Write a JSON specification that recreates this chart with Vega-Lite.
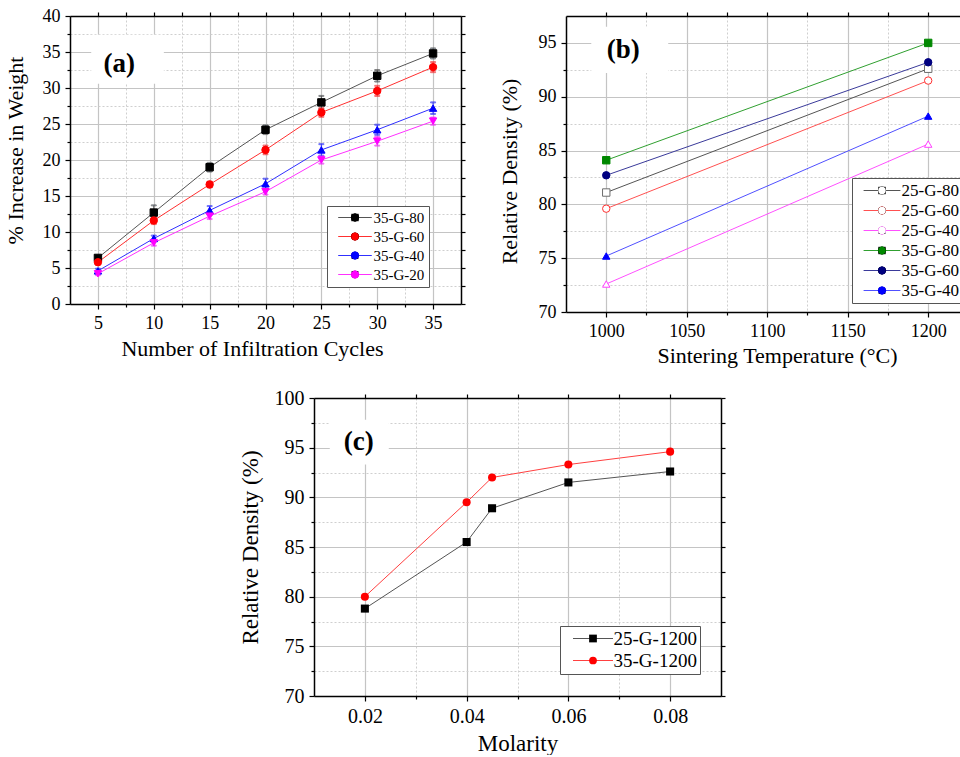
{
  "$schema": "https://vega.github.io/schema/vega-lite/v6.json",
  "padding": {"left": 4, "top": 7, "right": 0, "bottom": 0},
  "background": "white",
  "config": {
    "font": "Liberation Serif",
    "view": {"stroke": null},
    "axis": {"labelFont": "Liberation Serif", "titleFont": "Liberation Serif", "labelColor": "#000", "titleColor": "#000", "titleFontWeight": "normal", "domainColor": "#000", "tickColor": "#000", "domainWidth": 1.5, "tickWidth": 1.2, "labelFontSize": 18, "titleFontSize": 22},
    "legend": {"labelFont": "Liberation Serif", "labelColor": "#000"}
  },
  "resolve": {"scale": {"color": "independent", "shape": "independent", "stroke": "independent", "fill": "independent"}, "legend": {"color": "independent", "shape": "independent", "stroke": "independent", "fill": "independent"}},
  "vconcat": [
    {
      "resolve": {"scale": {"color": "independent", "shape": "independent", "stroke": "independent", "fill": "independent"}, "legend": {"color": "independent", "shape": "independent", "stroke": "independent", "fill": "independent"}},
      "spacing": 32,
      "hconcat": [
        {
          "width": 391, "height": 288,
          "data": {"values": [
            {"cycles": 5, "series": "35-G-80", "value": 6.4, "err": 0.3},
            {"cycles": 10, "series": "35-G-80", "value": 12.7, "err": 1.0},
            {"cycles": 15, "series": "35-G-80", "value": 19.0, "err": 0.6},
            {"cycles": 20, "series": "35-G-80", "value": 24.2, "err": 0.6},
            {"cycles": 25, "series": "35-G-80", "value": 28.0, "err": 0.9},
            {"cycles": 30, "series": "35-G-80", "value": 31.7, "err": 0.8},
            {"cycles": 35, "series": "35-G-80", "value": 34.8, "err": 0.7},
            {"cycles": 5, "series": "35-G-60", "value": 5.8, "err": 0.3},
            {"cycles": 10, "series": "35-G-60", "value": 11.6, "err": 0.5},
            {"cycles": 15, "series": "35-G-60", "value": 16.6, "err": 0.4},
            {"cycles": 20, "series": "35-G-60", "value": 21.4, "err": 0.6},
            {"cycles": 25, "series": "35-G-60", "value": 26.6, "err": 0.6},
            {"cycles": 30, "series": "35-G-60", "value": 29.6, "err": 0.7},
            {"cycles": 35, "series": "35-G-60", "value": 32.9, "err": 0.7},
            {"cycles": 5, "series": "35-G-40", "value": 4.6, "err": 0.3},
            {"cycles": 10, "series": "35-G-40", "value": 9.1, "err": 0.4},
            {"cycles": 15, "series": "35-G-40", "value": 13.0, "err": 0.6},
            {"cycles": 20, "series": "35-G-40", "value": 16.7, "err": 0.7},
            {"cycles": 25, "series": "35-G-40", "value": 21.4, "err": 0.8},
            {"cycles": 30, "series": "35-G-40", "value": 24.2, "err": 0.7},
            {"cycles": 35, "series": "35-G-40", "value": 27.2, "err": 0.8},
            {"cycles": 5, "series": "35-G-20", "value": 4.2, "err": 0.2},
            {"cycles": 10, "series": "35-G-20", "value": 8.5, "err": 0.4},
            {"cycles": 15, "series": "35-G-20", "value": 12.2, "err": 0.4},
            {"cycles": 20, "series": "35-G-20", "value": 15.6, "err": 0.4},
            {"cycles": 25, "series": "35-G-20", "value": 20.0, "err": 0.5},
            {"cycles": 30, "series": "35-G-20", "value": 22.6, "err": 0.6},
            {"cycles": 35, "series": "35-G-20", "value": 25.4, "err": 0.5}
          ]},
          "resolve": {"axis": {"x": "independent", "y": "independent"}},
          "layer": [
            {
              "mark": {"type": "point", "opacity": 0},
              "encoding": {
                "x": {"field": "cycles", "type": "quantitative", "scale": {"domain": [2.5, 37.5], "nice": false, "zero": false}, "axis": {"orient": "top", "values": [5, 7.5, 10, 12.5, 15, 17.5, 20, 22.5, 25, 27.5, 30, 32.5, 35], "labels": false, "grid": false, "title": null, "tickSize": 4, "domain": true}},
                "y": {"field": "value", "type": "quantitative", "scale": {"domain": [0, 40], "nice": false, "zero": false}, "axis": {"orient": "right", "values": [0, 2.5, 5, 7.5, 10, 12.5, 15, 17.5, 20, 22.5, 25, 27.5, 30, 32.5, 35, 37.5, 40], "labels": false, "grid": false, "title": null, "tickSize": 4, "domain": true}}
              }
            },
            {
              "mark": {"type": "point", "opacity": 0},
              "encoding": {
                "x": {"field": "cycles", "type": "quantitative", "scale": {"domain": [2.5, 37.5], "nice": false, "zero": false}, "axis": {"orient": "bottom", "values": [7.5, 12.5, 17.5, 22.5, 27.5, 32.5], "labels": false, "grid": true, "gridDash": [2, 2], "gridColor": "#cfcfcf", "gridWidth": 1, "title": null, "tickSize": 3, "domain": false}},
                "y": {"field": "value", "type": "quantitative", "scale": {"domain": [0, 40], "nice": false, "zero": false}, "axis": {"orient": "left", "values": [2.5, 7.5, 12.5, 17.5, 22.5, 27.5, 32.5, 37.5], "labels": false, "grid": true, "gridDash": [2, 2], "gridColor": "#cfcfcf", "gridWidth": 1, "title": null, "tickSize": 3, "domain": false}}
              }
            },
            {
              "data": {"values": [{"t": "(a)"}]},
              "mark": {"type": "rect", "fill": "white"},
              "encoding": {
                "x": {"datum": 4.4, "type": "quantitative", "scale": {"domain": [2.5, 37.5], "nice": false, "zero": false}, "axis": null},
                "x2": {"datum": 10.9},
                "y": {"datum": 30.6, "type": "quantitative", "scale": {"domain": [0, 40], "nice": false, "zero": false}, "axis": null},
                "y2": {"datum": 37.4}
              }
            },
            {
              "data": {"values": [{"t": "(a)"}]},
              "mark": {"type": "text", "fontSize": 27, "fontWeight": "bold", "font": "Liberation Serif", "baseline": "middle", "align": "center"},
              "encoding": {
                "x": {"datum": 6.9, "type": "quantitative", "axis": null},
                "y": {"datum": 33.3, "type": "quantitative", "axis": null},
                "text": {"field": "t"}
              }
            },
            {
              "mark": {"type": "line", "strokeWidth": 1},
              "encoding": {
                "x": {"field": "cycles", "type": "quantitative", "scale": {"domain": [2.5, 37.5], "nice": false, "zero": false}, "axis": {"orient": "bottom", "values": [5, 10, 15, 20, 25, 30, 35], "title": "Number of Infiltration Cycles", "titleX": 182, "grid": true, "gridColor": "#c4c4c4", "gridWidth": 1.2, "tickSize": 5, "labelPadding": 5, "titlePadding": 6, "labelFontSize": 18, "titleFontSize": 22, "domain": true}},
                "y": {"field": "value", "type": "quantitative", "scale": {"domain": [0, 40], "nice": false, "zero": false}, "axis": {"orient": "left", "values": [0, 5, 10, 15, 20, 25, 30, 35, 40], "title": "% Increase in Weight", "titleY": 134, "grid": true, "gridColor": "#c4c4c4", "gridWidth": 1.2, "tickSize": 5, "labelPadding": 5, "titlePadding": 15, "labelFontSize": 18, "titleFontSize": 22, "domain": true}},
                "stroke": {"field": "series", "type": "nominal",
                  "scale": {"domain": ["35-G-80", "35-G-60", "35-G-40", "35-G-20"], "range": ["#555555", "#ff3030", "#3030ff", "#ff30ff"]},
                  "legend": {"orient": "none", "legendX": 257, "legendY": 190, "title": null, "direction": "vertical", "symbolType": "M-4.2,0H4.2", "symbolSize": 64, "symbolStrokeWidth": 1, "symbolOffset": 16.5, "labelOffset": 11, "labelFontSize": 15, "padding": 4, "rowPadding": 3, "strokeColor": "#555", "fillColor": "white", "zindex": 0}
                }
              }
            },
            {
              "mark": {"type": "errorbar", "ticks": true},
              "encoding": {
                "x": {"field": "cycles", "type": "quantitative", "axis": null},
                "y": {"field": "value", "type": "quantitative", "axis": null},
                "yError": {"field": "err"},
                "stroke": {"field": "series", "type": "nominal", "legend": null}
              }
            },
            {
              "mark": {"type": "point", "filled": false, "opacity": 1, "size": 55, "strokeWidth": 1},
              "encoding": {
                "x": {"field": "cycles", "type": "quantitative", "axis": null},
                "y": {"field": "value", "type": "quantitative", "axis": null},
                "color": {"field": "series", "type": "nominal", "sort": ["35-G-80", "35-G-60", "35-G-40", "35-G-20"], "scale": {"range": ["#000000", "#ff0000", "#0000ff", "#ff00ff"]},
                  "legend": {"orient": "none", "legendX": 257, "legendY": 190, "title": null, "direction": "vertical", "symbolSize": 55, "symbolOpacity": 1, "symbolStrokeWidth": 1, "symbolOffset": 16.5, "labelOffset": 11, "labelFontSize": 15, "labelOpacity": 0, "padding": 4, "rowPadding": 3, "zindex": 1}},
                "fill": {"field": "series", "type": "nominal", "sort": ["35-G-80", "35-G-60", "35-G-40", "35-G-20"], "scale": {"range": ["#000000", "#ff0000", "#0000ff", "#ff00ff"]},
                  "legend": {"orient": "none", "legendX": 257, "legendY": 190, "title": null, "direction": "vertical", "symbolSize": 55, "symbolOpacity": 1, "symbolStrokeWidth": 1, "symbolOffset": 16.5, "labelOffset": 11, "labelFontSize": 15, "labelOpacity": 0, "padding": 4, "rowPadding": 3, "zindex": 1}},
                "shape": {"field": "series", "type": "nominal", "sort": ["35-G-80", "35-G-60", "35-G-40", "35-G-20"], "scale": {"range": ["square", "circle", "triangle-up", "triangle-down"]},
                  "legend": {"orient": "none", "legendX": 257, "legendY": 190, "title": null, "direction": "vertical", "symbolSize": 55, "symbolOpacity": 1, "symbolStrokeWidth": 1, "symbolOffset": 16.5, "labelOffset": 11, "labelFontSize": 15, "labelOpacity": 0, "padding": 4, "rowPadding": 3, "zindex": 1}}
              }
            }
          ]
        },
        {
          "width": 396, "height": 296,
          "data": {"values": [
            {"temp": 1000, "series": "25-G-80", "value": 81.1},
            {"temp": 1200, "series": "25-G-80", "value": 92.6},
            {"temp": 1000, "series": "25-G-60", "value": 79.6},
            {"temp": 1200, "series": "25-G-60", "value": 91.5},
            {"temp": 1000, "series": "25-G-40", "value": 72.6},
            {"temp": 1200, "series": "25-G-40", "value": 85.6},
            {"temp": 1000, "series": "35-G-80", "value": 84.1},
            {"temp": 1200, "series": "35-G-80", "value": 95.0},
            {"temp": 1000, "series": "35-G-60", "value": 82.7},
            {"temp": 1200, "series": "35-G-60", "value": 93.2},
            {"temp": 1000, "series": "35-G-40", "value": 75.2},
            {"temp": 1200, "series": "35-G-40", "value": 88.2}
          ]},
          "resolve": {"axis": {"x": "independent", "y": "independent"}},
          "layer": [
            {
              "mark": {"type": "point", "opacity": 0},
              "encoding": {
                "x": {"field": "temp", "type": "quantitative", "scale": {"domain": [975, 1221], "nice": false, "zero": false}, "axis": {"orient": "top", "values": [1000, 1025, 1050, 1075, 1100, 1125, 1150, 1175, 1200], "labels": false, "grid": false, "title": null, "tickSize": 4, "domain": true}},
                "y": {"field": "value", "type": "quantitative", "scale": {"domain": [70, 97.5], "nice": false, "zero": false}, "axis": {"orient": "right", "values": [70, 72.5, 75, 77.5, 80, 82.5, 85, 87.5, 90, 92.5, 95, 97.5], "labels": false, "grid": false, "title": null, "tickSize": 4, "domain": true}}
              }
            },
            {
              "mark": {"type": "point", "opacity": 0},
              "encoding": {
                "x": {"field": "temp", "type": "quantitative", "scale": {"domain": [975, 1221], "nice": false, "zero": false}, "axis": {"orient": "bottom", "values": [1025, 1075, 1125, 1175], "labels": false, "grid": true, "gridDash": [2, 2], "gridColor": "#cfcfcf", "gridWidth": 1, "title": null, "tickSize": 3, "domain": false}},
                "y": {"field": "value", "type": "quantitative", "scale": {"domain": [70, 97.5], "nice": false, "zero": false}, "axis": {"orient": "left", "values": [72.5, 77.5, 82.5, 87.5, 92.5], "labels": false, "grid": true, "gridDash": [2, 2], "gridColor": "#cfcfcf", "gridWidth": 1, "title": null, "tickSize": 3, "domain": false}}
              }
            },
            {
              "data": {"values": [{"t": "(b)"}]},
              "mark": {"type": "rect", "fill": "white"},
              "encoding": {
                "x": {"datum": 990.7, "type": "quantitative", "scale": {"domain": [975, 1221], "nice": false, "zero": false}, "axis": null},
                "x2": {"datum": 1038.5},
                "y": {"datum": 92.2, "type": "quantitative", "scale": {"domain": [70, 97.5], "nice": false, "zero": false}, "axis": null},
                "y2": {"datum": 96.5}
              }
            },
            {
              "data": {"values": [{"t": "(b)"}]},
              "mark": {"type": "text", "fontSize": 27, "fontWeight": "bold", "font": "Liberation Serif", "baseline": "middle", "align": "center"},
              "encoding": {
                "x": {"datum": 1010.6, "type": "quantitative", "axis": null},
                "y": {"datum": 94.35, "type": "quantitative", "axis": null},
                "text": {"field": "t"}
              }
            },
            {
              "mark": {"type": "line", "strokeWidth": 1},
              "encoding": {
                "x": {"field": "temp", "type": "quantitative", "scale": {"domain": [975, 1221], "nice": false, "zero": false}, "axis": {"orient": "bottom", "values": [1000, 1050, 1100, 1150, 1200], "format": "d", "title": "Sintering Temperature (\u00b0C)", "titleX": 211, "grid": true, "gridColor": "#c4c4c4", "gridWidth": 1.2, "tickSize": 5, "labelPadding": 5, "titlePadding": 5, "labelFontSize": 18, "titleFontSize": 22, "domain": true}},
                "y": {"field": "value", "type": "quantitative", "scale": {"domain": [70, 97.5], "nice": false, "zero": false}, "axis": {"orient": "left", "values": [70, 75, 80, 85, 90, 95], "title": "Relative Density (%)", "titleY": 155, "grid": true, "gridColor": "#c4c4c4", "gridWidth": 1.2, "tickSize": 5, "labelPadding": 5, "titlePadding": 17, "labelFontSize": 18, "titleFontSize": 22, "domain": true}},
                "stroke": {"field": "series", "type": "nominal",
                  "scale": {"domain": ["25-G-80", "25-G-60", "25-G-40", "35-G-80", "35-G-60", "35-G-40"], "range": ["#555555", "#ff5050", "#ff50ff", "#30a030", "#3a3a9a", "#5050ff"]},
                  "legend": {"orient": "none", "legendX": 286, "legendY": 162, "title": null, "direction": "vertical", "symbolType": "M-4.6,0H4.6", "symbolSize": 64, "symbolStrokeWidth": 1, "symbolOffset": 17.5, "labelOffset": 11, "labelFontSize": 17, "padding": 4, "rowPadding": 2, "strokeColor": "#555", "fillColor": "white", "zindex": 0}
                }
              }
            },
            {
              "mark": {"type": "point", "filled": false, "opacity": 1, "size": 55, "strokeWidth": 1},
              "encoding": {
                "x": {"field": "temp", "type": "quantitative", "axis": null},
                "y": {"field": "value", "type": "quantitative", "axis": null},
                "color": {"field": "series", "type": "nominal", "sort": ["25-G-80", "25-G-60", "25-G-40", "35-G-80", "35-G-60", "35-G-40"], "scale": {"range": ["#6e6e6e", "#ff3030", "#ff40ff", "#008800", "#000080", "#0000ff"]},
                  "legend": {"orient": "none", "legendX": 286, "legendY": 162, "title": null, "direction": "vertical", "symbolSize": 55, "symbolOpacity": 1, "symbolStrokeWidth": 1, "symbolOffset": 17.5, "labelOffset": 11, "labelFontSize": 17, "labelOpacity": 0, "padding": 4, "rowPadding": 2, "zindex": 1}},
                "fill": {"field": "series", "type": "nominal", "sort": ["25-G-80", "25-G-60", "25-G-40", "35-G-80", "35-G-60", "35-G-40"], "scale": {"range": ["#ffffff", "#ffffff", "#ffffff", "#008800", "#000080", "#0000ff"]},
                  "legend": {"orient": "none", "legendX": 286, "legendY": 162, "title": null, "direction": "vertical", "symbolSize": 55, "symbolOpacity": 1, "symbolStrokeWidth": 1, "symbolOffset": 17.5, "labelOffset": 11, "labelFontSize": 17, "labelOpacity": 0, "padding": 4, "rowPadding": 2, "zindex": 1}},
                "shape": {"field": "series", "type": "nominal", "sort": ["25-G-80", "25-G-60", "25-G-40", "35-G-80", "35-G-60", "35-G-40"], "scale": {"range": ["square", "circle", "triangle-up", "square", "circle", "triangle-up"]},
                  "legend": {"orient": "none", "legendX": 286, "legendY": 162, "title": null, "direction": "vertical", "symbolSize": 55, "symbolOpacity": 1, "symbolStrokeWidth": 1, "symbolOffset": 17.5, "labelOffset": 11, "labelFontSize": 17, "labelOpacity": 0, "padding": 4, "rowPadding": 2, "zindex": 1}}
              }
            }
          ]
        }
      ]
    },
    {
      "resolve": {"scale": {"color": "independent", "shape": "independent", "stroke": "independent", "fill": "independent"}, "legend": {"color": "independent", "shape": "independent", "stroke": "independent", "fill": "independent"}},
      "spacing": 0,
      "hconcat": [
        {
          "width": 169, "height": 10,
          "data": {"values": []},
          "mark": {"type": "point", "opacity": 0},
          "encoding": {}
        },
        {
          "width": 407, "height": 298,
          "data": {"values": [
            {"molarity": 0.02, "series": "25-G-1200", "value": 78.8},
            {"molarity": 0.04, "series": "25-G-1200", "value": 85.5},
            {"molarity": 0.045, "series": "25-G-1200", "value": 88.9},
            {"molarity": 0.06, "series": "25-G-1200", "value": 91.5},
            {"molarity": 0.08, "series": "25-G-1200", "value": 92.6},
            {"molarity": 0.02, "series": "35-G-1200", "value": 80.0},
            {"molarity": 0.04, "series": "35-G-1200", "value": 89.5},
            {"molarity": 0.045, "series": "35-G-1200", "value": 92.0},
            {"molarity": 0.06, "series": "35-G-1200", "value": 93.3},
            {"molarity": 0.08, "series": "35-G-1200", "value": 94.6}
          ]},
          "resolve": {"axis": {"x": "independent", "y": "independent"}},
          "layer": [
            {
              "mark": {"type": "point", "opacity": 0},
              "encoding": {
                "x": {"field": "molarity", "type": "quantitative", "scale": {"domain": [0.01, 0.09], "nice": false, "zero": false}, "axis": {"orient": "top", "values": [0.02, 0.03, 0.04, 0.05, 0.06, 0.07, 0.08], "labels": false, "grid": false, "title": null, "tickSize": 4, "domain": true}},
                "y": {"field": "value", "type": "quantitative", "scale": {"domain": [70, 100], "nice": false, "zero": false}, "axis": {"orient": "right", "values": [70, 72.5, 75, 77.5, 80, 82.5, 85, 87.5, 90, 92.5, 95, 97.5, 100], "labels": false, "grid": false, "title": null, "tickSize": 4, "domain": true}}
              }
            },
            {
              "mark": {"type": "point", "opacity": 0},
              "encoding": {
                "x": {"field": "molarity", "type": "quantitative", "scale": {"domain": [0.01, 0.09], "nice": false, "zero": false}, "axis": {"orient": "bottom", "values": [0.03, 0.05, 0.07], "labels": false, "grid": true, "gridDash": [2, 2], "gridColor": "#cfcfcf", "gridWidth": 1, "title": null, "tickSize": 3, "domain": false}},
                "y": {"field": "value", "type": "quantitative", "scale": {"domain": [70, 100], "nice": false, "zero": false}, "axis": {"orient": "left", "values": [72.5, 77.5, 82.5, 87.5, 92.5, 97.5], "labels": false, "grid": true, "gridDash": [2, 2], "gridColor": "#cfcfcf", "gridWidth": 1, "title": null, "tickSize": 3, "domain": false}}
              }
            },
            {
              "data": {"values": [{"t": "(c)"}]},
              "mark": {"type": "rect", "fill": "white"},
              "encoding": {
                "x": {"datum": 0.0131, "type": "quantitative", "scale": {"domain": [0.01, 0.09], "nice": false, "zero": false}, "axis": null},
                "x2": {"datum": 0.0247},
                "y": {"datum": 93.3, "type": "quantitative", "scale": {"domain": [70, 100], "nice": false, "zero": false}, "axis": null},
                "y2": {"datum": 97.8}
              }
            },
            {
              "data": {"values": [{"t": "(c)"}]},
              "mark": {"type": "text", "fontSize": 27, "fontWeight": "bold", "font": "Liberation Serif", "baseline": "middle", "align": "center"},
              "encoding": {
                "x": {"datum": 0.0188, "type": "quantitative", "axis": null},
                "y": {"datum": 95.57, "type": "quantitative", "axis": null},
                "text": {"field": "t"}
              }
            },
            {
              "mark": {"type": "line", "strokeWidth": 1},
              "encoding": {
                "x": {"field": "molarity", "type": "quantitative", "scale": {"domain": [0.01, 0.09], "nice": false, "zero": false}, "axis": {"orient": "bottom", "values": [0.02, 0.04, 0.06, 0.08], "format": ".2f", "title": "Molarity", "grid": true, "gridColor": "#c4c4c4", "gridWidth": 1.2, "tickSize": 5, "labelPadding": 5, "titlePadding": 6, "labelFontSize": 20, "titleFontSize": 23, "domain": true}},
                "y": {"field": "value", "type": "quantitative", "scale": {"domain": [70, 100], "nice": false, "zero": false}, "axis": {"orient": "left", "values": [70, 75, 80, 85, 90, 95, 100], "title": "Relative Density (%)", "grid": true, "gridColor": "#c4c4c4", "gridWidth": 1.2, "tickSize": 5, "labelPadding": 5, "titlePadding": 12, "labelFontSize": 20, "titleFontSize": 23, "domain": true}},
                "stroke": {"field": "series", "type": "nominal",
                  "scale": {"domain": ["25-G-1200", "35-G-1200"], "range": ["#555555", "#ff4040"]},
                  "legend": {"orient": "none", "legendX": 246, "legendY": 228, "title": null, "direction": "vertical", "symbolType": "M-5,0H5", "symbolSize": 64, "symbolStrokeWidth": 1, "symbolOffset": 20.5, "labelOffset": 11, "labelFontSize": 19, "padding": 3, "rowPadding": 2, "strokeColor": "#555", "fillColor": "white", "zindex": 0}
                }
              }
            },
            {
              "mark": {"type": "point", "filled": true, "opacity": 1, "size": 65},
              "encoding": {
                "x": {"field": "molarity", "type": "quantitative", "axis": null},
                "y": {"field": "value", "type": "quantitative", "axis": null},
                "color": {"field": "series", "type": "nominal", "scale": {"range": ["#000000", "#ff0000"]},
                  "legend": {"orient": "none", "legendX": 246, "legendY": 228, "title": null, "direction": "vertical", "symbolSize": 60, "symbolOpacity": 1, "symbolStrokeWidth": 0, "symbolOffset": 20.5, "labelOffset": 11, "labelFontSize": 19, "labelOpacity": 0, "padding": 3, "rowPadding": 2, "zindex": 1}},
                "shape": {"field": "series", "type": "nominal", "scale": {"range": ["square", "circle"]},
                  "legend": {"orient": "none", "legendX": 246, "legendY": 228, "title": null, "direction": "vertical", "symbolSize": 60, "symbolOpacity": 1, "symbolStrokeWidth": 0, "symbolOffset": 20.5, "labelOffset": 11, "labelFontSize": 19, "labelOpacity": 0, "padding": 3, "rowPadding": 2, "zindex": 1}}
              }
            }
          ]
        }
      ]
    }
  ],
  "spacing": 22
}
